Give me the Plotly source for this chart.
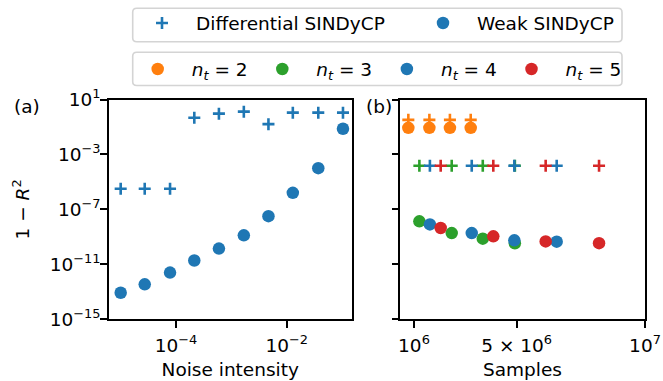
import plotly.graph_objects as go

# ---------------- data ----------------
noise = [1.0e-5, 2.72e-5, 7.8e-5, 2.14e-4, 5.96e-4, 1.68e-3, 4.68e-3, 1.29e-2, 3.72e-2, 1.04e-1]
weak_noise = [8.5e-14, 3.5e-13, 2.5e-12, 1.9e-11, 1.4e-10, 1.3e-9, 3.2e-8, 1.6e-6, 1.0e-4, 7.4e-2]
diff_noise = [3.2e-6, 3.2e-6, 3.2e-6, 0.47, 0.93, 1.3, 0.16, 1.1, 1.1, 1.1]

nt_labels = ["2", "3", "4", "5"]
samples = {
    "2": [0.78e6, 1.60e6, 2.40e6, 3.21e6],
    "3": [1.21e6, 2.47e6, 3.68e6, 4.93e6],
    "4": [1.62e6, 3.25e6, 4.91e6, 6.56e6],
    "5": [2.04e6, 4.09e6, 6.13e6, 8.21e6],
}
weak_samples = {
    "2": [8.7e-2, 8.7e-2, 8.7e-2, 8.7e-2],
    "3": [1.35e-8, 1.9e-9, 7.4e-10, 3.4e-10],
    "4": [8.1e-9, 1.9e-9, 5.6e-10, 4.5e-10],
    "5": [4.4e-9, 1.1e-9, 4.7e-10, 3.5e-10],
}
diff_samples = {
    "2": [0.33, 0.33, 0.33, 0.33],
    "3": [1.5e-4, 1.5e-4, 1.5e-4, 1.5e-4],
    "4": [1.5e-4, 1.5e-4, 1.5e-4, 1.5e-4],
    "5": [1.5e-4, 1.5e-4, 1.5e-4, 1.5e-4],
}
y_ticks = [1e1, 1e-3, 1e-7, 1e-11, 1e-15]
y_ticktext = ["10<sup>1</sup>", "10<sup>−3</sup>", "10<sup>−7</sup>", "10<sup>−11</sup>", "10<sup>−15</sup>"]
x1_ticks = [1e-4, 1e-2]
x1_ticktext = ["10<sup>−4</sup>", "10<sup>−2</sup>"]
x2_ticks = [1e6, 5e6, 1e7]
x2_ticktext = ["10<sup>6</sup>", "5 × 10<sup>6</sup>", "10<sup>7</sup>"]

# ---------------- style ----------------
W, H = 663, 381
FONT = "DejaVu Sans"
FS = 18.5
BLUE, ORANGE, GREEN, RED = "#1f77b4", "#ff7f0e", "#2ca02c", "#d62728"
nt_colors = {"2": ORANGE, "3": GREEN, "4": BLUE, "5": RED}
CIRC = 12.5
PLUS = 8.6
PLUSW = 2.6


def px_x(p):
    return p / W


def px_y(p):
    return 1 - p / H


def plus_marker(c):
    return dict(symbol="cross-thin", size=PLUS, color=c, line=dict(color=c, width=PLUSW))


def circ_marker(c):
    return dict(symbol="circle", size=CIRC, color=c, line=dict(width=0))


fig = go.Figure()

# panel (a)
fig.add_trace(go.Scatter(x=noise, y=diff_noise, mode="markers", marker=plus_marker(BLUE),
                         name="Differential SINDyCP", legend="legend", xaxis="x", yaxis="y"))
fig.add_trace(go.Scatter(x=noise, y=weak_noise, mode="markers", marker=circ_marker(BLUE),
                         name="Weak SINDyCP", legend="legend", xaxis="x", yaxis="y"))

# panel (b)
for nt in nt_labels:
    c = nt_colors[nt]
    fig.add_trace(go.Scatter(x=samples[nt], y=diff_samples[nt], mode="markers", marker=plus_marker(c),
                             showlegend=False, xaxis="x2", yaxis="y2"))
for nt in nt_labels:
    c = nt_colors[nt]
    fig.add_trace(go.Scatter(x=samples[nt], y=weak_samples[nt], mode="markers", marker=circ_marker(c),
                             name="<i>n</i><sub><i>t</i></sub> = " + nt, legend="legend2",
                             xaxis="x2", yaxis="y2"))

axis_common = dict(showline=True, linecolor="black", linewidth=1.6, mirror=True,
                   ticks="outside", ticklen=6.5, tickwidth=1.6, tickcolor="black",
                   showgrid=False, zeroline=False, automargin=False,
                   tickfont=dict(family=FONT, size=FS, color="black"))

yd = [px_y(319.3), px_y(99.5)]

fig.update_layout(
    template="none",
    width=W, height=H,
    margin=dict(l=0, r=0, t=0, b=0, autoexpand=False),
    paper_bgcolor="white", plot_bgcolor="white",
    font=dict(family=FONT, size=FS, color="black"),
    xaxis=dict(axis_common, type="log", domain=[px_x(108.5), px_x(352)], range=[-5.22, -0.82],
               tickmode="array", tickvals=x1_ticks, ticktext=x1_ticktext, anchor="y", ticklabelstandoff=2,
               title=dict(text="Noise intensity", standoff=8, font=dict(family=FONT, size=FS))),
    yaxis=dict(axis_common, type="log", domain=yd, range=[-15, 1], anchor="x",
               tickmode="array", tickvals=y_ticks, ticktext=y_ticktext, ticklabelstandoff=-4,
               title=dict(text="1 − <i>R</i><sup>2</sup>", standoff=15, font=dict(family=FONT, size=FS))),
    xaxis2=dict(axis_common, type="linear", domain=[px_x(400), px_x(645)], range=[0.455e6, 1e7],
                tickmode="array", tickvals=x2_ticks, ticktext=x2_ticktext, anchor="y2", ticklabelstandoff=2,
                title=dict(text="Samples", standoff=8, font=dict(family=FONT, size=FS))),
    yaxis2=dict(axis_common, type="log", domain=yd, range=[-15, 1], anchor="x2", matches="y",
                tickmode="array", tickvals=y_ticks, showticklabels=False),
    legend=dict(orientation="h", x=px_x(128), y=px_y(4.5), xanchor="left", yanchor="top",
                bgcolor="rgba(0,0,0,0)", borderwidth=0, itemwidth=58, entrywidth=208,
                font=dict(family=FONT, size=FS), itemclick=False, tracegroupgap=0),
    legend2=dict(orientation="h", x=px_x(123.7), y=px_y(50.5), xanchor="left", yanchor="top",
                 bgcolor="rgba(0,0,0,0)", borderwidth=0, itemwidth=58, entrywidth=51.6,
                 font=dict(family=FONT, size=FS), itemclick=False),
    showlegend=True,
)


def rounded_box(x0, y0, x1, y1, r=4):
    X = lambda p: px_x(p)
    Y = lambda p: px_y(p)
    return ("M {a},{b} L {c},{b} Q {d},{b} {d},{e} L {d},{f} Q {d},{g} {c},{g} "
            "L {a},{g} Q {h},{g} {h},{f} L {h},{e} Q {h},{b} {a},{b} Z").format(
        a=X(x0 + r), b=Y(y0), c=X(x1 - r), d=X(x1), e=Y(y0 + r), f=Y(y1 - r), g=Y(y1), h=X(x0))


for box in [(132.7, 8.3, 622, 41.7), (132.7, 52.3, 622, 85.5)]:
    fig.add_shape(type="path", path=rounded_box(*box), xref="paper", yref="paper",
                  line=dict(color="#d4d4d4", width=1.6), fillcolor="rgba(255,255,255,0.8)", layer="above")

fig.add_annotation(text="(a)", x=px_x(12), y=px_y(106), xref="paper", yref="paper",
                   xanchor="left", yanchor="middle", showarrow=False, font=dict(family=FONT, size=FS))
fig.add_annotation(text="(b)", x=px_x(364), y=px_y(106), xref="paper", yref="paper",
                   xanchor="left", yanchor="middle", showarrow=False, font=dict(family=FONT, size=FS))

# remove the browser's default 8px body margin so the figure sits at the page origin
fig.write_html("out.html", config={"displayModeBar": False},
               post_script="document.body.style.margin='0';")
